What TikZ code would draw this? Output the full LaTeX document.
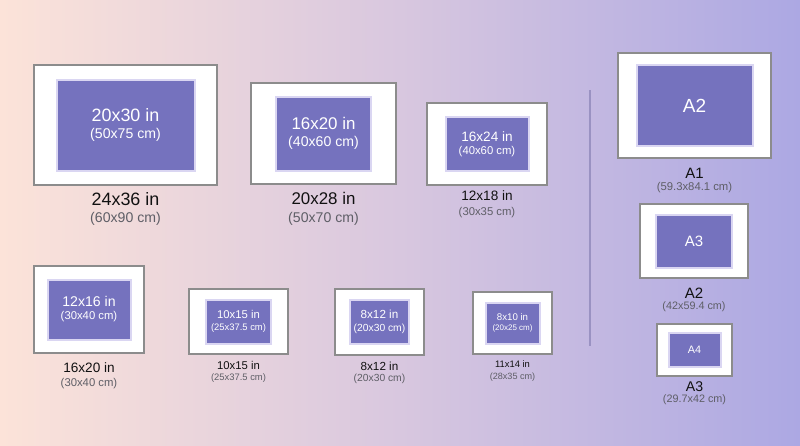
\documentclass[tikz,border=0pt]{standalone}
\usepackage{fontspec}
\setmainfont{Liberation Sans}
\usetikzlibrary{positioning}
\definecolor{peach}{HTML}{FCE3D9}
\definecolor{mist}{HTML}{D8C7DF}
\definecolor{lilac}{HTML}{ACA8E3}
\definecolor{frm}{HTML}{8C8C8C}
\definecolor{pur}{HTML}{7572BE}
\definecolor{lav}{HTML}{DAD6F2}
\definecolor{ink}{HTML}{111111}
\definecolor{ink2}{HTML}{5E5E66}
\definecolor{rule}{HTML}{9A92C2}
\newcommand{\fs}[1]{\fontsize{#1}{#1}\selectfont}
\tikzset{
  pframe/.style={draw=frm,fill=white,line width=2pt,inner sep=0pt},
  pmat/.style={draw=lav,fill=pur,line width=2pt,inner sep=0pt,align=center,text=white},
  lab/.style={inner sep=0pt,align=center,text=ink2},
  txt/.style 2 args={font=\fontsize{#1}{#2}\selectfont},
}
\begin{document}
\begin{tikzpicture}[x=1pt,y=1pt]
\useasboundingbox (0,0) rectangle (800,-445);
\shade[left color=peach,right color=lilac,middle color=mist] (0,0) rectangle (800,-445);
% top row
\node[pframe,minimum width=183pt,minimum height=120pt] (p2436) at (125.5,-125) {};
\node[pmat,minimum width=138pt,minimum height=91pt,txt={14.1}{16.6}] (p2436m) at (p2436) {{\fs{17.9}20x30 in}\\(50x75 cm)};
\node[lab,below=6.5pt of p2436,txt={14.1}{16.6}] (p2436l) {{\fs{17.9}\color{ink}24x36 in}\\(60x90 cm)};
\node[pframe,minimum width=145pt,minimum height=101pt] (p2028) at (323.5,-133.5) {};
\node[pmat,minimum width=95pt,minimum height=74pt,txt={14.1}{17}] (p2028m) at (p2028) {{\fs{16.9}16x20 in}\\(40x60 cm)};
\node[lab,below=6.8pt of p2028,txt={14.1}{18}] (p2028l) {{\fs{16.9}\color{ink}20x28 in}\\(50x70 cm)};
\node[pframe,minimum width=120pt,minimum height=82pt] (p1218) at (487,-144) {};
\node[pmat,minimum width=83pt,minimum height=54pt,txt={11.3}{13.2}] (p1218m) at (p1218) {{\fs{13.6}16x24 in}\\(40x60 cm)};
\node[lab,below=4pt of p1218,txt={11.3}{15.2}] (p1218l) {{\fs{13.6}\color{ink}12x18 in}\\(30x35 cm)};
% bottom row
\node[pframe,minimum width=110pt,minimum height=87pt] (p1620) at (89,-309.5) {};
\node[pmat,minimum width=83pt,minimum height=60pt,txt={11.3}{13}] (p1620m) at (p1620) {{\fs{14.1}12x16 in}\\(30x40 cm)};
\node[lab,below=8pt of p1620,txt={11.3}{14.2}] (p1620l) {{\fs{13.6}\color{ink}16x20 in}\\(30x40 cm)};
\node[pframe,minimum width=99pt,minimum height=65pt] (p1015) at (238.5,-321.5) {};
\node[pmat,minimum width=65pt,minimum height=44pt,txt={9.4}{11.3}] (p1015m) at (p1015) {{\fs{11.3}10x15 in}\\(25x37.5 cm)};
\node[lab,below=5.9pt of p1015,txt={9.4}{11.3}] (p1015l) {{\fs{11.3}\color{ink}10x15 in}\\(25x37.5 cm)};
\node[pframe,minimum width=89pt,minimum height=66pt] (p812) at (379.5,-322) {};
\node[pmat,minimum width=59pt,minimum height=44pt,txt={10.3}{12.5}] (p812m) at (p812) {{\fs{11.7}8x12 in}\\(20x30 cm)};
\node[lab,below=5.7pt of p812,txt={10.3}{11.5}] (p812l) {{\fs{11.7}\color{ink}8x12 in}\\(20x30 cm)};
\node[pframe,minimum width=79pt,minimum height=62pt] (p1114) at (512.5,-323) {};
\node[pmat,minimum width=54pt,minimum height=41pt,txt={8}{10.4}] (p1114m) at (p1114) {{\fs{9.7}8x10 in}\\(20x25 cm)};
\node[lab,below=5.6pt of p1114,txt={9.1}{11.9}] (p1114l) {{\fs{9.4}\color{ink}11x14 in}\\(28x35 cm)};
% A sizes
\draw[rule,line width=1.5pt] (590,-90) -- (590,-346);
\node[pframe,minimum width=153pt,minimum height=105pt] (a1) at (694.5,-105.5) {};
\node[pmat,minimum width=116pt,minimum height=81pt,txt={19}{19}] (a1m) at (a1) {A2};
\node[lab,below=8.5pt of a1,txt={11.3}{12.6}] (a1l) {{\fs{15}\color{ink}A1}\\(59.3x84.1 cm)};
\node[pframe,minimum width=108pt,minimum height=74pt] (a2) at (694,-241) {};
\node[pmat,minimum width=76pt,minimum height=53pt,txt={15}{15}] (a2m) at (a2) {A3};
\node[lab,below=8.5pt of a2,txt={10.8}{11.5}] (a2l) {{\fs{15}\color{ink}A2}\\(42x59.4 cm)};
\node[pframe,minimum width=75pt,minimum height=52pt] (a3) at (694.5,-350) {};
\node[pmat,minimum width=52pt,minimum height=34pt,txt={10.8}{10.8}] (a3m) at (a3) {A4};
\node[lab,below=4.5pt of a3,txt={10.8}{11}] (a3l) {{\fs{14.1}\color{ink}A3}\\(29.7x42 cm)};
\end{tikzpicture}
\end{document}
